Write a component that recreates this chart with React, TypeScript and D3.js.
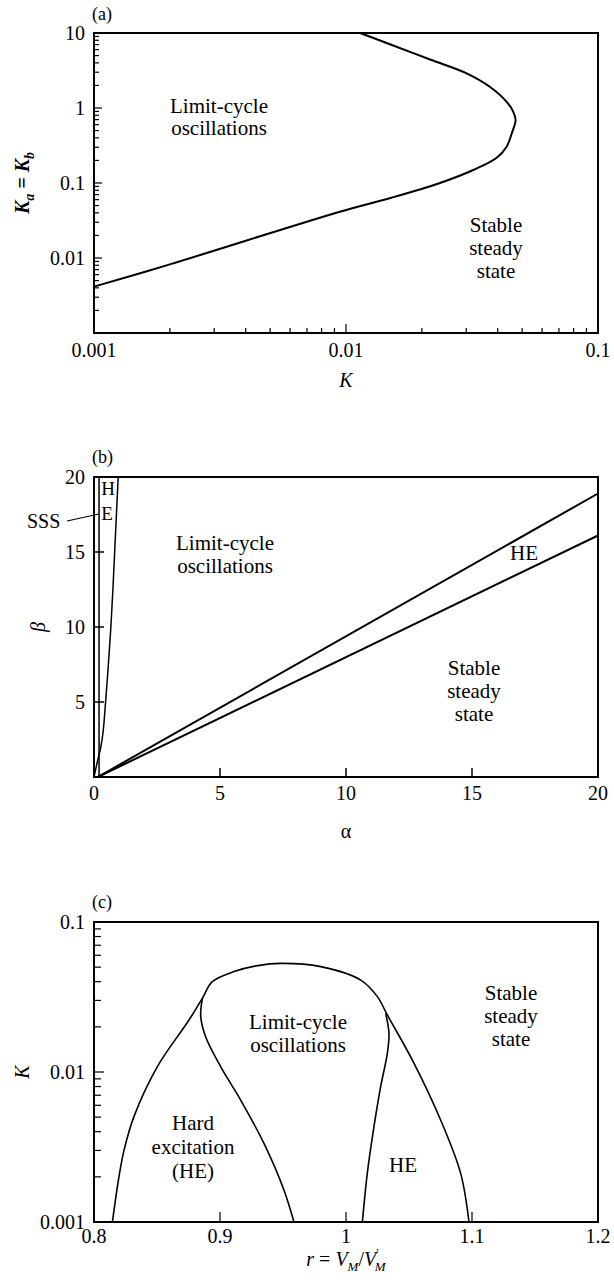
import React from 'react';
import * as d3 from 'd3';

const W = 614;
const H = 1280;
const FONT = 'Liberation Serif';

// ---------- Panel (a) ----------
const aK = [0.001, 0.00197, 0.00946, 0.015, 0.0236, 0.032, 0.0395, 0.0434, 0.0455, 0.0471, 0.0461, 0.0434, 0.0372, 0.0301, 0.0217, 0.0152, 0.01138];
const aKab = [0.00415, 0.0081, 0.0414, 0.063, 0.1, 0.149, 0.215, 0.305, 0.46, 0.69, 0.89, 1.21, 1.92, 2.9, 4.4, 6.92, 10];
const aXTickVals = [0.001, 0.01, 0.1];
const aXTickLabels = ['0.001', '0.01', '0.1'];
const aYTickVals = [0.01, 0.1, 1, 10];
const aYTickLabels = ['0.01', '0.1', '1', '10'];

// ---------- Panel (b) ----------
const bHEBeta = [0, 1, 2, 3, 5, 7.5, 10, 12.5, 15, 17.5, 20];
const bHEAlpha = [0, 0.13, 0.27, 0.36, 0.46, 0.57, 0.67, 0.75, 0.82, 0.89, 0.96];
const bSSSAlpha = [0.2, 0.2];
const bSSSBeta = [0, 20];
const bUpperAlpha = [0.15, 20];
const bUpperBeta = [0, 18.9];
const bLowerAlpha = [0.15, 20];
const bLowerBeta = [0, 16.1];
const bTickVals = [5, 10, 15];
const bXTickLabels = ['0', '5', '10', '15', '20'];
const bXTickLabelVals = [0, 5, 10, 15, 20];
const bYTickLabels = ['5', '10', '15', '20'];
const bYTickLabelVals = [5, 10, 15, 20];

// ---------- Panel (c) ----------
const cOuterR = [0.8146, 0.8198, 0.8238, 0.8317, 0.8503, 0.8754, 0.886, 0.8939, 0.9111, 0.9300, 0.9482, 0.98, 1.0117, 1.0249, 1.0328, 1.054, 1.0751, 1.091, 1.0976];
const cOuterK = [0.001, 0.002, 0.003, 0.00504, 0.01086, 0.0222, 0.031, 0.04, 0.0467, 0.0512, 0.053, 0.0504, 0.041, 0.0318, 0.024, 0.01143, 0.00479, 0.00211, 0.001];
const cInnerLeftR = [0.886, 0.8847, 0.8886, 0.9005, 0.9164, 0.9349, 0.9508, 0.9587];
const cInnerLeftK = [0.031, 0.0234, 0.0172, 0.01086, 0.0065, 0.00334, 0.00163, 0.001];
const cInnerRightR = [1.0315, 1.0341, 1.0328, 1.0275, 1.0222, 1.0169, 1.013];
const cInnerRightK = [0.0246, 0.0181, 0.0133, 0.00798, 0.00432, 0.00211, 0.001];
const cXTickVals = [0.9, 1.0, 1.1];
const cXTickLabels = ['0.8', '0.9', '1', '1.1', '1.2'];
const cXTickLabelVals = [0.8, 0.9, 1.0, 1.1, 1.2];
const cYTickLabels = ['0.001', '0.01', '0.1'];
const cYTickLabelVals = [0.001, 0.01, 0.1];

// layout
const L = 94, R = 598;
const aTop = 33, aBot = 333;
const bTop = 477, bBot = 777;
const cTop = 922, cBot = 1222;

const xA = d3.scaleLog().domain([0.001, 0.1]).range([L, R]);
const yA = d3.scaleLog().domain([0.001, 10]).range([aBot, aTop]);
const xB = d3.scaleLinear().domain([0, 20]).range([L, R]);
const yB = d3.scaleLinear().domain([0, 20]).range([bBot, bTop]);
const xC = d3.scaleLinear().domain([0.8, 1.2]).range([L, R]);
const yC = d3.scaleLog().domain([0.001, 0.1]).range([cBot, cTop]);

function pathOf(xs: number[], ys: number[], sx: any, sy: any, smooth = true) {
  const pts: [number, number][] = xs.map((x, i) => [sx(x), sy(ys[i])]);
  const gen = d3.line<[number, number]>().x(d => d[0]).y(d => d[1]);
  if (smooth) gen.curve(d3.curveCatmullRom.alpha(0.5));
  return gen(pts) || '';
}

const isDecade = (v: number) => Math.abs(Math.log10(v) - Math.round(Math.log10(v))) < 1e-6;

const txt = { fontFamily: FONT, fontSize: 20, fill: '#000' } as const;
const REG = 21;

function Frame({ top, bot }: { top: number; bot: number }) {
  return <rect x={L} y={top} width={R - L} height={bot - top} fill="none" stroke="#000" strokeWidth={2} />;
}

function Stack({ x, y, lines, dy = 23 }: { x: number; y: number; lines: string[]; dy?: number }) {
  return (
    <g>
      {lines.map((s, i) => (
        <text key={i} x={x} y={y + i * dy} textAnchor="middle" {...txt} fontSize={REG}>{s}</text>
      ))}
    </g>
  );
}

export default function App() {
  const aXMinor = xA.ticks().filter(v => v > 0.001 && v < 0.1);
  const aYMinor = yA.ticks().filter(v => v > 0.001 && v < 10);
  const cYMinor = yC.ticks().filter(v => v > 0.001 && v < 0.1);

  return (
    <svg width={W} height={H} style={{ position: 'absolute', left: 0, top: 0, background: '#fff' }}>
      {/* ================= Panel (a) ================= */}
      <text x={92} y={20} {...txt} fontSize={18}>(a)</text>
      <g stroke="#000" strokeWidth={1.2}>
        {aXMinor.map((v, i) => (
          <line key={'ax' + i} x1={xA(v)} x2={xA(v)} y1={aBot} y2={aBot - (isDecade(v) ? 9 : 5)} />
        ))}
        {aYMinor.map((v, i) => (
          <line key={'ay' + i} x1={L} x2={L + (isDecade(v) ? 8 : 5)} y1={yA(v)} y2={yA(v)} />
        ))}
      </g>
      <path d={pathOf(aK, aKab, xA, yA)} fill="none" stroke="#000" strokeWidth={2} />
      <Frame top={aTop} bot={aBot} />
      {aXTickVals.map((v, i) => (
        <text key={'axl' + i} x={xA(v)} y={357} textAnchor="middle" {...txt}>{aXTickLabels[i]}</text>
      ))}
      {aYTickVals.map((v, i) => (
        <text key={'ayl' + i} x={85} y={yA(v) + 7} textAnchor="end" {...txt}>{aYTickLabels[i]}</text>
      ))}
      <text x={346} y={387} textAnchor="middle" {...txt} fontStyle="italic">K</text>
      <text x={29} y={183} textAnchor="middle" {...txt} fontStyle="italic" fontWeight="bold" transform="rotate(-90 29 183)">
        <tspan>K</tspan>
        <tspan dy={5} fontSize={14}>a</tspan>
        <tspan dy={-5}> = K</tspan>
        <tspan dy={5} fontSize={14}>b</tspan>
      </text>
      <Stack x={219} y={113} lines={['Limit-cycle', 'oscillations']} dy={22} />
      <Stack x={496} y={232} lines={['Stable', 'steady', 'state']} />

      {/* ================= Panel (b) ================= */}
      <text x={92} y={463} {...txt} fontSize={18}>(b)</text>
      <g stroke="#000" strokeWidth={1.5}>
        {bTickVals.map((v, i) => (
          <line key={'bx' + i} x1={xB(v)} x2={xB(v)} y1={bBot} y2={bBot - 9} />
        ))}
        {bTickVals.map((v, i) => (
          <line key={'by' + i} x1={L} x2={L + 10} y1={yB(v)} y2={yB(v)} />
        ))}
      </g>
      <path d={pathOf(bSSSAlpha, bSSSBeta, xB, yB, false)} fill="none" stroke="#000" strokeWidth={1.5} />
      <path d={pathOf(bHEAlpha, bHEBeta, xB, yB)} fill="none" stroke="#000" strokeWidth={1.5} />
      <path d={pathOf(bUpperAlpha, bUpperBeta, xB, yB, false)} fill="none" stroke="#000" strokeWidth={2} />
      <path d={pathOf(bLowerAlpha, bLowerBeta, xB, yB, false)} fill="none" stroke="#000" strokeWidth={2} />
      <Frame top={bTop} bot={bBot} />
      {bXTickLabelVals.map((v, i) => (
        <text key={'bxl' + i} x={xB(v)} y={800} textAnchor="middle" {...txt}>{bXTickLabels[i]}</text>
      ))}
      {bYTickLabelVals.map((v, i) => (
        <text key={'byl' + i} x={85} y={yB(v) + 7} textAnchor="end" {...txt}>{bYTickLabels[i]}</text>
      ))}
      <text x={346} y={838} textAnchor="middle" {...txt}>α</text>
      <text x={45} y={627} textAnchor="middle" {...txt} fontStyle="italic" transform="rotate(-90 45 627)">β</text>
      <text x={108} y={495} textAnchor="middle" {...txt} fontSize={19}>H</text>
      <text x={107} y={520} textAnchor="middle" {...txt} fontSize={19}>E</text>
      <text x={27} y={528} {...txt}>SSS</text>
      <line x1={67} y1={521} x2={99} y2={514} stroke="#000" strokeWidth={1.2} />
      <Stack x={225} y={550} lines={['Limit-cycle', 'oscillations']} />
      <text x={524} y={560} textAnchor="middle" {...txt} fontSize={REG}>HE</text>
      <Stack x={474} y={675} lines={['Stable', 'steady', 'state']} />

      {/* ================= Panel (c) ================= */}
      <text x={92} y={908} {...txt} fontSize={18}>(c)</text>
      <g stroke="#000" strokeWidth={1.2}>
        {cXTickVals.map((v, i) => (
          <line key={'cx' + i} x1={xC(v)} x2={xC(v)} y1={cBot} y2={cBot - 10} />
        ))}
        {cYMinor.map((v, i) => (
          <line key={'cy' + i} x1={L} x2={L + (isDecade(v) ? 10 : 7)} y1={yC(v)} y2={yC(v)} />
        ))}
      </g>
      <path d={pathOf(cOuterR, cOuterK, xC, yC)} fill="none" stroke="#000" strokeWidth={1.6} />
      <path d={pathOf(cInnerLeftR, cInnerLeftK, xC, yC)} fill="none" stroke="#000" strokeWidth={1.6} />
      <path d={pathOf(cInnerRightR, cInnerRightK, xC, yC)} fill="none" stroke="#000" strokeWidth={1.6} />
      <Frame top={cTop} bot={cBot} />
      {cXTickLabelVals.map((v, i) => (
        <text key={'cxl' + i} x={xC(v)} y={1243} textAnchor="middle" {...txt}>{cXTickLabels[i]}</text>
      ))}
      {cYTickLabelVals.map((v, i) => (
        <text key={'cyl' + i} x={85} y={yC(v) + 7} textAnchor="end" {...txt}>{cYTickLabels[i]}</text>
      ))}
      <text x={29} y={1072} textAnchor="middle" {...txt} fontStyle="italic" transform="rotate(-90 29 1072)">K</text>
      <text x={346} y={1266} textAnchor="middle" {...txt}>
        <tspan fontStyle="italic">r</tspan>
        <tspan> = </tspan>
        <tspan fontStyle="italic">V</tspan>
        <tspan dy={5} fontSize={13} fontStyle="italic">M</tspan>
        <tspan dy={-5}>/</tspan>
        <tspan fontStyle="italic">V</tspan>
        <tspan dy={-9} fontSize={12}>′</tspan>
        <tspan dx={-4} dy={14} fontSize={13} fontStyle="italic">M</tspan>
      </text>
      <Stack x={511} y={1000} lines={['Stable', 'steady', 'state']} />
      <Stack x={298} y={1029} lines={['Limit-cycle', 'oscillations']} />
      <Stack x={193} y={1130} lines={['Hard', 'excitation', '(HE)']} dy={24} />
      <text x={403} y={1172} textAnchor="middle" {...txt} fontSize={REG}>HE</text>
    </svg>
  );
}
